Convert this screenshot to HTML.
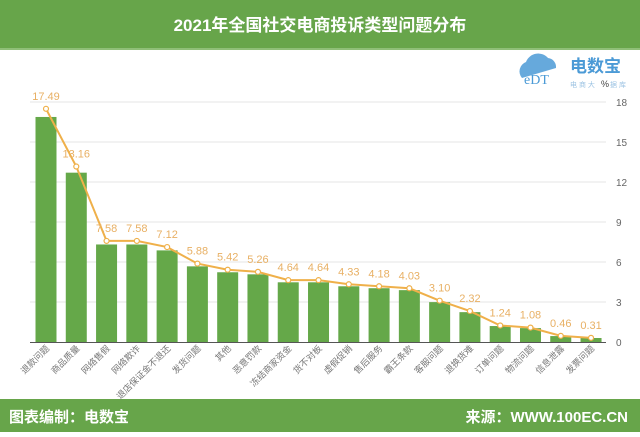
<!DOCTYPE html>
<html><head><meta charset="utf-8"><style>
body{margin:0;width:640px;height:432px;overflow:hidden;background:#fff;font-family:"Liberation Sans","Noto Sans CJK SC",sans-serif}
</style></head><body>
<svg width="640" height="432" xmlns="http://www.w3.org/2000/svg" font-family="Liberation Sans, Noto Sans CJK SC, sans-serif">
<rect x="0" y="0" width="640" height="48" fill="#67a54a"/>
<rect x="0" y="48" width="640" height="2" fill="#8fbf78"/>
<text x="320" y="31" text-anchor="middle" font-size="17" font-weight="bold" fill="#fff">2021年全国社交电商投诉类型问题分布</text>
<rect x="0" y="399" width="640" height="33" fill="#67a54a"/>
<text x="9" y="422" font-size="15" font-weight="bold" fill="#fff">图表编制：电数宝</text>
<text x="628" y="422" text-anchor="end" font-size="15" font-weight="bold" fill="#fff">来源：WWW.100EC.CN</text>
<!-- logo -->
<path d="M522 78 a10 10 0 0 1 4 -16 a13 13 0 0 1 22 -4 a9 9 0 0 1 8 10 z" fill="#4b9ad6" opacity="0.85"/>
<text x="524" y="84" font-size="14" font-family="Liberation Serif, serif" fill="#4b9ad6">eDT</text>
<text x="570" y="72" font-size="17" font-weight="bold" fill="#4b9ad6">电数宝</text>
<text x="570" y="87" font-size="7" fill="#9cc3e3">电 商 大 </text>
<text x="601" y="87" font-size="9" fill="#444">%</text>
<text x="610" y="87" font-size="7" fill="#9cc3e3">据 库</text>
<g stroke="#e6e6e6" stroke-width="1">
<line x1="30" y1="102" x2="606" y2="102"/><line x1="30" y1="142" x2="606" y2="142"/>
<line x1="30" y1="182" x2="606" y2="182"/><line x1="30" y1="222" x2="606" y2="222"/>
<line x1="30" y1="262" x2="606" y2="262"/><line x1="30" y1="302" x2="606" y2="302"/>
</g>
<g font-size="10" fill="#666">
<text x="616" y="106">18</text><text x="616" y="146">15</text><text x="616" y="186">12</text>
<text x="616" y="226">9</text><text x="616" y="266">6</text><text x="616" y="306">3</text><text x="616" y="346">0</text>
</g>
<g id="c"></g>
<line x1="30" y1="342.5" x2="606" y2="342.5" stroke="#555" stroke-width="1"/>
</svg>
<script>
var v=[17.49,13.16,7.58,7.58,7.12,5.88,5.42,5.26,4.64,4.64,4.33,4.18,4.03,3.10,2.32,1.24,1.08,0.46,0.31,0.31];
v=[17.49,13.16,7.58,7.58,7.12,5.88,5.42,5.26,4.64,4.64,4.33,4.18,4.03,3.10,2.32,1.24,1.08,0.46,0.31];
var n=["退款问题","商品质量","网络售假","网络欺诈","退店保证金不退还","发货问题","其他","恶意罚款","冻结商家资金","货不对板","虚假促销","售后服务","霸王条款","客服问题","退换货难","订单问题","物流问题","信息泄露","发票问题"];
var g=document.getElementById('c'),s='',pts=[];
var k=40/3;
for(var i=0;i<v.length;i++){var x=46+i*30.28;var h=v[i]*k*0.965;
s+='<rect x="'+(x-10.5)+'" y="'+(342-h)+'" width="21" height="'+h+'" fill="#65a849"/>';
pts.push([x,342-v[i]*k]);}
var p=pts.map(function(a){return a.join(',')}).join(' ');
s+='<polyline points="'+p+'" fill="none" stroke="#efb04a" stroke-width="2"/>';
for(i=0;i<v.length;i++){s+='<circle cx="'+pts[i][0]+'" cy="'+pts[i][1]+'" r="2.5" fill="#fff" stroke="#efb04a" stroke-width="1.2"/>';
s+='<text x="'+pts[i][0]+'" y="'+(pts[i][1]-9)+'" text-anchor="middle" font-size="11" fill="#e8b064">'+v[i].toFixed(2)+'</text>';
s+='<text transform="translate('+(pts[i][0]+4)+',349) rotate(-45)" text-anchor="end" font-size="9" fill="#777">'+n[i]+'</text>';}
g.innerHTML=s;
</script>
</body></html>
